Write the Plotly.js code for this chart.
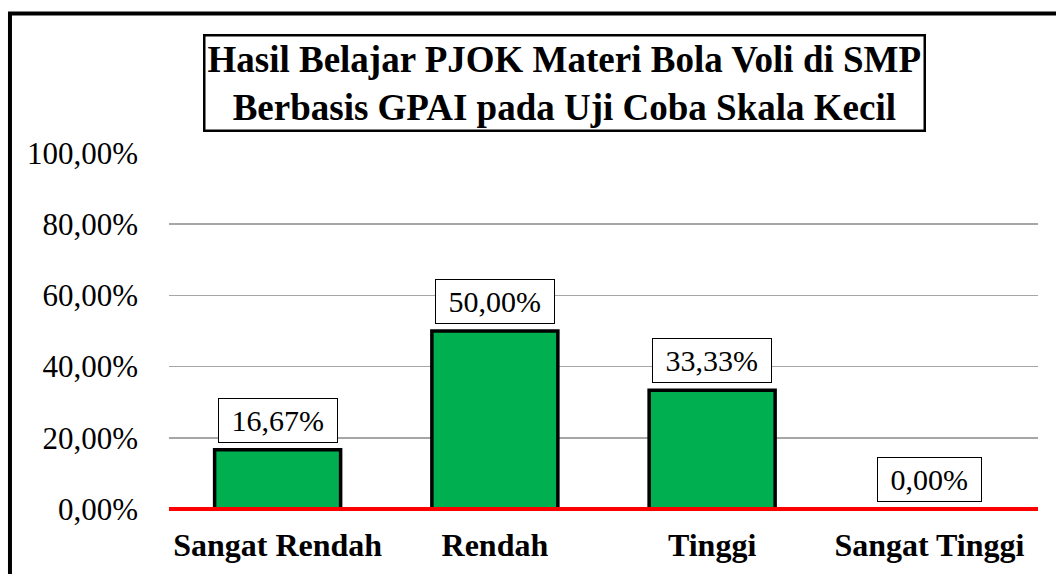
<!DOCTYPE html>
<html>
<head>
<meta charset="utf-8">
<script src="https://cdn.plot.ly/plotly-3.0.1.min.js"></script>
<style>
  html, body { margin: 0; padding: 0; background: #fff; overflow: hidden; }
  #chart { width: 1056px; height: 574px; }
</style>
</head>
<body>
<div id="chart"></div>
<script>
const categories = ["Sangat Rendah", "Rendah", "Tinggi", "Sangat Tinggi"];
const values = [16.67, 50.00, 33.33, 0.00];
const yTicks = [0, 20, 40, 60, 80, 100];
const titleLines = ["Hasil Belajar PJOK Materi Bola Voli di SMP", "Berbasis GPAI pada Uji Coba Skala Kecil"];

const fmt = v => v.toFixed(2).replace('.', ',') + '%';
const FONT = "Liberation Serif, Times New Roman, serif";

const trace = {
  type: 'bar',
  x: categories,
  y: values,
  marker: { color: '#00B050', line: { color: '#000000', width: 3.5 } },
  hoverinfo: 'skip'
};

const labelAnns = categories.map((c, i) => ({
  x: c, y: values[i], xref: 'x', yref: 'y',
  text: '\u00A0' + fmt(values[i]) + '\u00A0',
  showarrow: false, yanchor: 'bottom', yshift: 7,
  font: { family: FONT, size: 30, color: '#000' },
  bgcolor: '#ffffff', bordercolor: '#000000', borderwidth: 1, borderpad: 5
}));

const titleAnn = {
  xref: 'paper', yref: 'paper', x: 0.455, y: 1.198,
  xanchor: 'center', yanchor: 'middle',
  text: '<b>' + titleLines.join('<br>') + '</b>',
  showarrow: false,
  font: { family: FONT, size: 37, color: '#000' },
  bgcolor: '#ffffff', bordercolor: '#000000', borderwidth: 2.5, borderpad: 2
};

const layout = {
  width: 1056, height: 574,
  margin: { l: 169, r: 18, t: 153, b: 65 },
  paper_bgcolor: '#ffffff', plot_bgcolor: '#ffffff',
  showlegend: false,
  bargap: 0.42,
  font: { family: FONT, color: '#000' },
  xaxis: {
    type: 'category',
    showgrid: false, showline: false, zeroline: false,
    ticks: '', ticklabelstandoff: 14,
    tickfont: { family: FONT, size: 32, color: '#000', weight: 'bold' }
  },
  yaxis: {
    range: [0, 100], autorange: false,
    tickmode: 'array', tickvals: yTicks, ticktext: yTicks.map(fmt),
    showgrid: true, gridcolor: '#A6A6A6', gridwidth: 1.5,
    zeroline: false, showline: false, ticks: '',
    ticklabelstandoff: 30,
    tickfont: { family: FONT, size: 31, color: '#000' }
  },
  shapes: [
    { type: 'line', xref: 'paper', yref: 'paper', x0: 0, x1: 1, y0: 0, y1: 0,
      line: { color: '#FF0000', width: 4 } },
    { type: 'rect', xref: 'paper', yref: 'paper', x0: -0.183, x1: 1.3, y0: -0.4, y1: 1.392,
      line: { color: '#000000', width: 4 }, fillcolor: 'rgba(0,0,0,0)' }
  ],
  annotations: [titleAnn].concat(labelAnns)
};

Plotly.newPlot('chart', [trace], layout, { displayModeBar: false, staticPlot: true });
</script>
</body>
</html>
